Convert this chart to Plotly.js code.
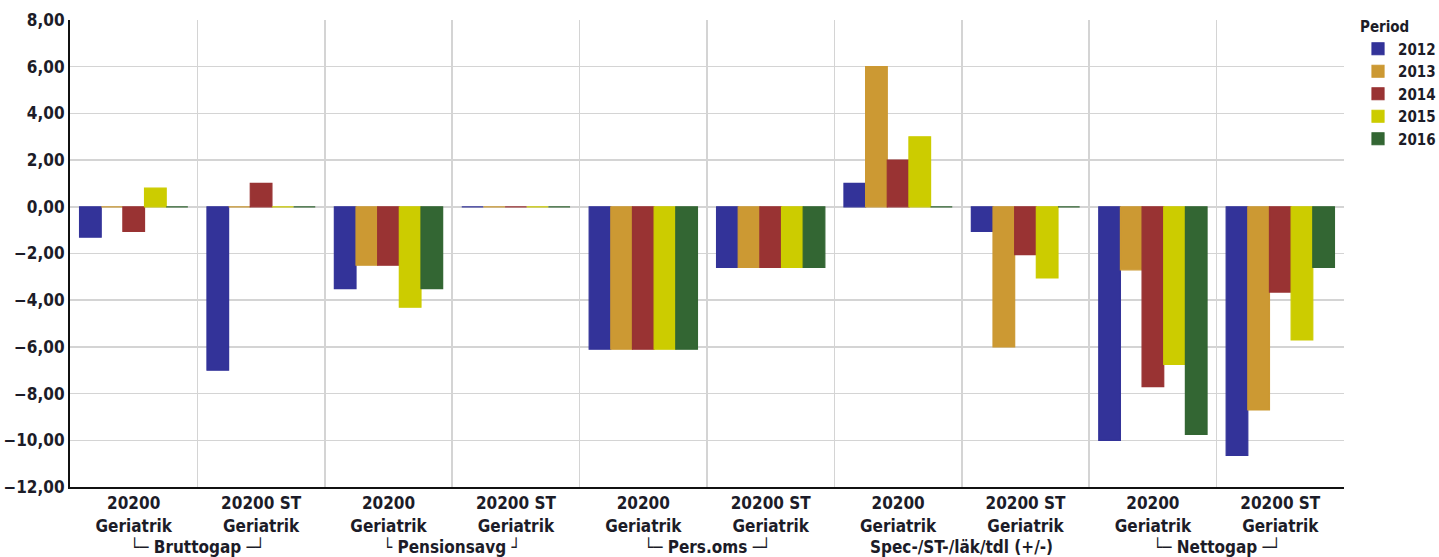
<!DOCTYPE html>
<html>
<head>
<meta charset="utf-8">
<script src="https://cdn.plot.ly/plotly-3.0.1.min.js"></script>
<style>
html,body{margin:0;padding:0;background:#fff;}
#chart{width:1439px;height:557px;}
</style>
</head>
<body>
<div id="chart"></div>
<script>
// ---- data ----
var groups = ["Bruttogap", "Pensionsavg", "Pers.oms", "Spec-/ST-/läk/tdl (+/-)", "Nettogap"];
var groupLabels = ["└─ Bruttogap ─┘", "└ Pensionsavg ┘", "└─ Pers.oms ─┘", "Spec-/ST-/läk/tdl (+/-)", "└─ Nettogap ─┘"];
var units = ["20200 Geriatrik", "20200 ST Geriatrik"];
var unitLabels = ["20200<br>Geriatrik", "20200 ST<br>Geriatrik"];
var years = ["2012", "2013", "2014", "2015", "2016"];
var colors = ["#333399", "#CC9933", "#993333", "#CCCC00", "#336633"];

var v2012 = [-1.3, -7.0, -3.5, 0, -6.1, -2.6, 1.0, -1.05, -10.0, -10.65];
var v2013 = [0, 0, -2.5, 0, -6.1, -2.6, 6.0, -6.0, -2.7, -8.7];
var v2014 = [-1.05, 1.0, -2.5, 0, -6.1, -2.6, 2.0, -2.05, -7.7, -3.65];
var v2015 = [0.8, 0, -4.3, 0, -6.1, -2.6, 3.0, -3.05, -6.75, -5.7];
var v2016 = [0, 0, -3.5, 0, -6.1, -2.6, 0, 0, -9.75, -2.6];
var seriesValues = [v2012, v2013, v2014, v2015, v2016];

// ---- build ----
var cats = [], catText = [];
groups.forEach(function (g) {
  units.forEach(function (u, j) {
    cats.push(g + " | " + u);
    catText.push(unitLabels[j]);
  });
});

var traces = years.map(function (y, i) {
  return {
    type: "bar",
    name: y,
    x: cats,
    y: seriesValues[i],
    marker: { color: colors[i], line: { color: colors[i], width: 1.2 } },
    hoverinfo: "x+y+name"
  };
});

var fontFam = "DejaVu Sans Condensed, Liberation Sans, Arial, sans-serif";
var txtColor = "#1c1c28";

var annotations = groupLabels.map(function (lab, k) {
  return {
    text: lab,
    xref: "x",
    yref: "paper",
    x: 2 * k + 0.5,
    y: 0,
    yshift: -60,
    yanchor: "middle",
    xanchor: "center",
    showarrow: false,
    font: { family: fontFam, size: 17, weight: "bold", color: txtColor }
  };
});

var layout = {
  width: 1439,
  height: 557,
  margin: { l: 70, r: 95, t: 20, b: 70, autoexpand: false },
  paper_bgcolor: "#ffffff",
  plot_bgcolor: "#ffffff",
  separators: ", ",
  barmode: "group",
  bargap: 0.15,
  bargroupgap: 0,
  showlegend: true,
  legend: {
    x: 1.011, xanchor: "left", y: 1.015, yanchor: "top",
    title: { text: "Period", font: { family: fontFam, size: 15, weight: "bold", color: txtColor } },
    font: { family: fontFam, size: 15, weight: "bold", color: txtColor },
    tracegroupgap: 0,
    itemwidth: 30
  },
  xaxis: {
    type: "category",
    tickmode: "array",
    tickvals: cats,
    ticktext: catText,
    tickson: "boundaries",
    ticks: "",
    showgrid: true,
    gridcolor: "#d4d4d4",
    gridwidth: 1.5,
    showline: true,
    linecolor: "#111111",
    linewidth: 2,
    tickfont: { family: fontFam, size: 17, weight: "bold", color: txtColor },
    fixedrange: true
  },
  yaxis: {
    range: [-12, 8],
    dtick: 2,
    tick0: 0,
    tickformat: ".2f",
    showgrid: true,
    gridcolor: "#d4d4d4",
    gridwidth: 1.5,
    zeroline: false,
    showline: true,
    linecolor: "#111111",
    linewidth: 2,
    ticks: "",
    tickfont: { family: fontFam, size: 17, weight: "bold", color: txtColor },
    fixedrange: true
  },
  annotations: annotations
};

Plotly.newPlot("chart", traces, layout, { displayModeBar: false, staticPlot: true });
</script>
</body>
</html>
